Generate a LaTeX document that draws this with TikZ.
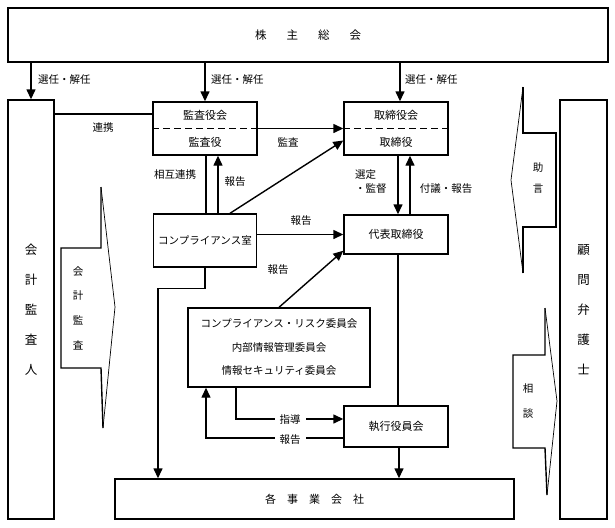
\documentclass[tikz,border=0pt]{standalone}
\usepackage{fontspec}
\setmainfont{Noto Sans CJK JP}
\usetikzlibrary{arrows.meta}

\begin{document}
\begin{tikzpicture}[x=1pt, y=-1pt,
  box/.style={draw, line width=1.4pt, inner sep=0pt, align=center, font=\fontsize{11}{13}\selectfont},
  lbl/.style={inner sep=1pt, font=\fontsize{10.5}{12}\selectfont},
  vtext/.style={inner sep=0pt, align=center},
  conn/.style={line width=1.4pt},
  arr/.style={conn, -{Triangle[length=10pt, width=9pt]}},
  neck/.style={line width=1.4pt},
  head/.style={line width=0.7pt}]
\useasboundingbox (0,0) rectangle (615,527);

\node[box, minimum width=600pt, minimum height=54pt, font=\fontsize{11.5}{13}\selectfont] (soukai) at (308,35) {株\hspace{20pt}主\hspace{20pt}総\hspace{20pt}会};
\node[box, minimum width=46pt, minimum height=419pt, font=\fontsize{12.5}{30}\selectfont] (kaikei) at (31,309.5) {会\\計\\監\\査\\人};
\node[box, minimum width=47pt, minimum height=419pt, font=\fontsize{12.5}{30}\selectfont] (komon) at (583.5,309.5) {顧\\問\\弁\\護\\士};
\node[box, minimum width=104pt, minimum height=53pt] (kansa) at (205,128.5) {監査役会\\[14pt]監査役};
\node[box, minimum width=104pt, minimum height=53pt] (torishimari) at (396,128.5) {取締役会\\[14pt]取締役};
\node[box, minimum width=103pt, minimum height=53pt, font=\fontsize{10.5}{13}\selectfont] (compliance) at (205,240.5) {コンプライアンス室};
\node[box, minimum width=104pt, minimum height=39pt] (daihyo) at (396,234.5) {代表取締役};
\node[box, minimum width=182pt, minimum height=79pt, font=\fontsize{10.5}{23.5}\selectfont] (committee) at (279,347.5) {コンプライアンス・リスク委員会\\内部情報管理委員会\\情報セキュリティ委員会};
\node[box, minimum width=104pt, minimum height=41pt] (shikko) at (396,426.5) {執行役員会};
\node[box, minimum width=399pt, minimum height=40pt] (jigyo) at (314.5,499) {各\hspace{11pt}事\hspace{11pt}業\hspace{11pt}会\hspace{11pt}社};

\draw[conn, dash pattern=on 7pt off 4pt] (kansa.west) -- (kansa.east);
\draw[conn, dash pattern=on 7pt off 4pt] (torishimari.west) -- (torishimari.east);

\draw[head] (101,187) -- (115,307) -- (103,428);
\draw[neck] (103,428) -- (101,368) -- (61,368) -- (61,248) -- (101,248) -- (101,187);
\node[vtext, font=\fontsize{10.5}{24.7}\selectfont] (kansaSign) at (78,308) {会\\計\\監\\査};
\draw[head] (523,87) -- (511,180) -- (523,273);
\draw[neck] (523,273) -- (523,227) -- (556,227) -- (556,133) -- (523,133) -- (523,87);
\node[vtext, font=\fontsize{10.5}{21}\selectfont] (jogenSign) at (538,178) {助\\言};
\draw[head] (545,308) -- (557,401) -- (547,495);
\draw[neck] (547,495) -- (545,448) -- (513,448) -- (513,355) -- (545,355) -- (545,308);
\node[vtext, font=\fontsize{10.5}{25}\selectfont] (sodanSign) at (528,401) {相\\談};

\draw[arr] (soukai.south -| kaikei.north) -- (kaikei.north);
\draw[arr] (soukai.south -| kansa.north) -- (kansa.north);
\draw[arr] ([xshift=4pt]soukai.south -| torishimari.north) -- ([xshift=4pt]torishimari.north);
\draw[conn] ([yshift=14.5pt]kansa.west) -- ([yshift=14.5pt]kansa.west -| kaikei.east);
\draw[arr] (kansa.east) -- (torishimari.west);
\draw[conn] ([xshift=1pt]compliance.north) -- ([xshift=1pt]kansa.south);
\draw[arr] ([xshift=13pt]compliance.north) -- ([xshift=13pt]kansa.south);
\draw[arr] ([xshift=25pt]compliance.north) -- ([yshift=-12pt]torishimari.west);
\draw[arr] ([xshift=2pt]torishimari.south) -- ([xshift=2pt]daihyo.north);
\draw[arr] ([xshift=14pt]daihyo.north) -- ([xshift=14pt]torishimari.south);
\draw[arr] (compliance.east |- daihyo.west) -- (daihyo.west);
\draw[arr] (committee.north) -- ([yshift=4pt]daihyo.south west);
\draw[arr] (compliance.south) -- ++(0,21) -| ([xshift=-156.5pt]jigyo.north);
\draw[conn] ([xshift=2pt]daihyo.south) -- ([xshift=2pt]shikko.north);
\draw[arr] ([xshift=3pt]shikko.south) -- ([xshift=3pt]shikko.south |- jigyo.north);
\draw[arr] ([xshift=-43pt]committee.south) |- ([yshift=7.5pt]shikko.west);
\draw[arr] ([yshift=-11.5pt]shikko.west) -| ([xshift=-73pt]committee.south);

\node[lbl, anchor=west] (sennin1) at (37,80) {選任・解任};
\node[lbl, anchor=west] (sennin2) at (210,80) {選任・解任};
\node[lbl, anchor=west] (sennin3) at (404,80) {選任・解任};
\node[lbl] (renkei) at (103,128) {連携};
\node[lbl] (kansaLbl) at (288,142) {監査};
\node[lbl] (sougo) at (175,175) {相互連携};
\node[lbl] (houkoku1) at (235,182) {報告};
\node[lbl, anchor=west, align=left, font=\fontsize{10.5}{14}\selectfont] (sentei) at (354,182) {選定\\・監督};
\node[lbl] (fugi) at (446,189) {付議・報告};
\node[lbl] (houkoku2) at (301,221) {報告};
\node[lbl] (houkoku3) at (278,270) {報告};
\node[lbl, fill=white, inner xsep=5pt] (shidou) at (290,419) {指導};
\node[lbl, fill=white, inner xsep=5pt] (houkoku4) at (290,440) {報告};
\end{tikzpicture}
\end{document}
